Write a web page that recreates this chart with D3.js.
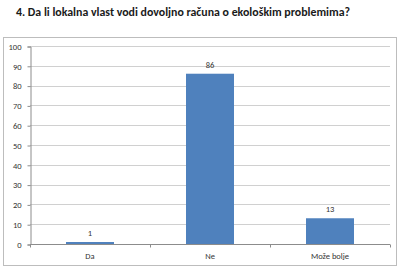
<!DOCTYPE html>
<html>
<head>
<meta charset="utf-8">
<script src="https://cdn.jsdelivr.net/npm/d3@7"></script>
<style>
    body { margin: 0; background: #fff; }
    svg { display: block; font-family: Carlito, "Liberation Sans", Arial, sans-serif; }
</style>
</head>
<body>
<script>
    var title = '4. Da li lokalna vlast vodi dovoljno računa o ekološkim problemima?';
    var categories = ['Da', 'Ne', 'Može bolje'];
    var values = [1, 86, 13];
    var yTicks = [0, 10, 20, 30, 40, 50, 60, 70, 80, 90, 100];

    var width = 400;
    var height = 269;
    var plot = { left: 30, right: 390, top: 46, bottom: 244 };

    var svg = d3.select('body').append('svg')
        .attr('width', width)
        .attr('height', height);

    // title
    svg.append('text')
        .attr('x', 16)
        .attr('y', 16)
        .attr('font-size', 11)
        .attr('font-weight', 'bold')
        .attr('fill', '#1a1a1a')
        .attr('textLength', 334)
        .attr('lengthAdjust', 'spacingAndGlyphs')
        .text(title);

    // chart frame
    svg.append('rect')
        .attr('x', 3.5)
        .attr('y', 37.5)
        .attr('width', 393)
        .attr('height', 228)
        .attr('fill', 'none')
        .attr('stroke', '#bdbdbd');

    var x = d3.scaleBand()
        .domain(categories)
        .range([plot.left, plot.right])
        .paddingInner(0.6)
        .paddingOuter(0.3);

    var y = d3.scaleLinear()
        .domain([0, 100])
        .range([plot.bottom, plot.top]);

    // gridlines
    svg.append('g').selectAll('line')
        .data(yTicks.filter(function (d) { return d > 0; }))
      .enter().append('line')
        .attr('x1', plot.left)
        .attr('x2', plot.right)
        .attr('y1', function (d) { return Math.round(y(d)) + 0.5; })
        .attr('y2', function (d) { return Math.round(y(d)) + 0.5; })
        .attr('stroke', '#d0d0d0');

    // y axis
    var yAxis = svg.append('g')
        .attr('transform', 'translate(' + (plot.left + 0.5) + ',0.5)')
        .call(d3.axisLeft(y).tickValues(yTicks).tickSize(3).tickPadding(6));
    yAxis.select('.domain').attr('stroke', '#8c8c8c');
    yAxis.selectAll('line').attr('stroke', '#8c8c8c');
    yAxis.selectAll('text').attr('font-size', 8.5).attr('fill', '#333')
        .attr('font-family', 'Carlito, "Liberation Sans", Arial, sans-serif');

    // bars
    svg.append('g').selectAll('rect')
        .data(values)
      .enter().append('rect')
        .attr('x', function (d, i) { return x(categories[i]); })
        .attr('y', function (d) { return y(d); })
        .attr('width', x.bandwidth())
        .attr('height', function (d) { return y(0) - y(d); })
        .attr('fill', '#4f81bd');

    // value labels
    svg.append('g').selectAll('text')
        .data(values)
      .enter().append('text')
        .attr('x', function (d, i) { return x(categories[i]) + x.bandwidth() / 2; })
        .attr('y', function (d) { return y(d) - 6; })
        .attr('text-anchor', 'middle')
        .attr('font-size', 8.5)
        .attr('fill', '#333')
        .text(function (d) { return d; });

    // x axis
    var step = x.step();
    var xAxis = svg.append('g')
        .attr('transform', 'translate(0,' + (plot.bottom + 0.5) + ')');
    xAxis.append('line')
        .attr('x1', plot.left)
        .attr('x2', plot.right)
        .attr('stroke', '#8c8c8c');
    xAxis.selectAll('line.tick')
        .data(d3.range(categories.length + 1))
      .enter().append('line')
        .attr('class', 'tick')
        .attr('x1', function (i) { return Math.round(plot.left + i * (plot.right - plot.left) / categories.length) + 0.5; })
        .attr('x2', function (i) { return Math.round(plot.left + i * (plot.right - plot.left) / categories.length) + 0.5; })
        .attr('y2', 3)
        .attr('stroke', '#8c8c8c');
    xAxis.selectAll('text')
        .data(categories)
      .enter().append('text')
        .attr('x', function (d) { return x(d) + x.bandwidth() / 2; })
        .attr('y', 14)
        .attr('text-anchor', 'middle')
        .attr('font-size', 8.5)
        .attr('fill', '#333')
        .text(function (d) { return d; });
</script>
</body>
</html>
